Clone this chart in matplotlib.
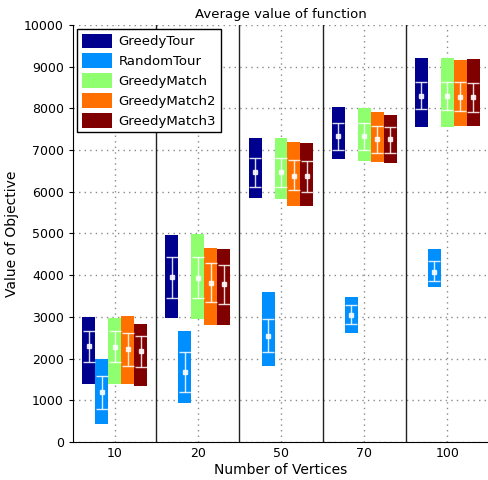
import numpy as np
import matplotlib
matplotlib.use("Agg")
import matplotlib.pyplot as plt

# groups and algorithms
vertices = ["10", "20", "50", "70", "100"]
algos = ["GreedyTour", "RandomTour", "GreedyMatch", "GreedyMatch2", "GreedyMatch3"]
colors = ["#00008f", "#008fff", "#8fff70", "#ff7000", "#800000"]

# per algorithm: one value per group (10, 20, 50, 70, 100)
vmax = {
    "GreedyTour":   [2997, 4964, 7282, 8026, 9200],
    "RandomTour":   [1990, 2662, 3590, 3477, 4628],
    "GreedyMatch":  [2974, 4988, 7282, 8010, 9200],
    "GreedyMatch2": [3014, 4653, 7186, 7914, 9160],
    "GreedyMatch3": [2829, 4628, 7162, 7842, 9184],
}
vmin = {
    "GreedyTour":   [1398, 2974, 5860, 6795, 7563],
    "RandomTour":   [432, 943, 1830, 2621, 3725],
    "GreedyMatch":  [1398, 2949, 5835, 6747, 7563],
    "GreedyMatch2": [1398, 2813, 5668, 6722, 7586],
    "GreedyMatch3": [1350, 2813, 5668, 6699, 7586],
}
vmean = {
    "GreedyTour":   [2302, 3949, 6483, 7330, 8305],
    "RandomTour":   [1191, 1670, 2550, 3053, 4085],
    "GreedyMatch":  [2286, 3925, 6467, 7330, 8305],
    "GreedyMatch2": [2230, 3821, 6387, 7259, 8274],
    "GreedyMatch3": [2182, 3781, 6371, 7259, 8274],
}
vhi = {
    "GreedyTour":   [2670, 4428, 6818, 7658, 8641],
    "RandomTour":   [1591, 2151, 2942, 3278, 4341],
    "GreedyMatch":  [2670, 4428, 6818, 7658, 8633],
    "GreedyMatch2": [2622, 4285, 6754, 7578, 8626],
    "GreedyMatch3": [2550, 4237, 6731, 7563, 8617],
}
vlo = {
    "GreedyTour":   [1911, 3453, 6115, 7010, 7977],
    "RandomTour":   [784, 1191, 2151, 2822, 3853],
    "GreedyMatch":  [1911, 3445, 6115, 6994, 7962],
    "GreedyMatch2": [1822, 3349, 6034, 6922, 7946],
    "GreedyMatch3": [1806, 3317, 6003, 6922, 7922],
}

fig = plt.figure(figsize=(4.89, 4.8), dpi=100)
ax = fig.add_axes([73/489, 38/480, 1 - 73/489, 417/480])

x = np.arange(1, len(vertices) + 1)
w = 0.156
for i, (name, c) in enumerate(zip(algos, colors)):
    xs = x + (i - 2) * w
    lo = np.array(vmin[name])
    hi = np.array(vmax[name])
    ax.bar(xs, hi - lo, bottom=lo, width=w, color=c, label=name, zorder=2)
    m = np.array(vmean[name])
    err = [m - np.array(vlo[name]), np.array(vhi[name]) - m]
    ax.errorbar(xs, m, yerr=err, fmt="s", color="white", ms=2.5, lw=1,
                capsize=4, capthick=1, alpha=0.85, zorder=3)

for s in x[:-1] + 0.5:
    ax.axvline(s, color="#222222", lw=1, zorder=1)

ax.set_xlim(0.5, 5.5)
ax.set_ylim(0, 10000)
ax.set_xticks(x)
ax.set_xticklabels(vertices)
ax.set_yticks(range(0, 10001, 1000))
ax.tick_params(labelsize=9, length=3, direction="out")
ax.tick_params(axis="x", length=0)
ax.grid(True, linestyle=(0, (1, 3)), color="#8a8a8a", lw=1, zorder=0)
ax.set_axisbelow(True)
for sp in ["top", "right"]:
    ax.spines[sp].set_visible(False)

ax.set_title("Average value of function", fontsize=9.5, pad=5)
ax.set_xlabel("Number of Vertices", fontsize=10, labelpad=2)
ax.set_ylabel("Value of Objective", fontsize=10)

leg = ax.legend(loc="upper left", fontsize=9.5, fancybox=False, framealpha=1,
                edgecolor="black", borderaxespad=0.3, handlelength=2.3,
                handleheight=1.3, labelspacing=0.4, borderpad=0.35,
                handletextpad=0.5)
leg.get_frame().set_linewidth(1)

fig.savefig("out.png", dpi=100)
